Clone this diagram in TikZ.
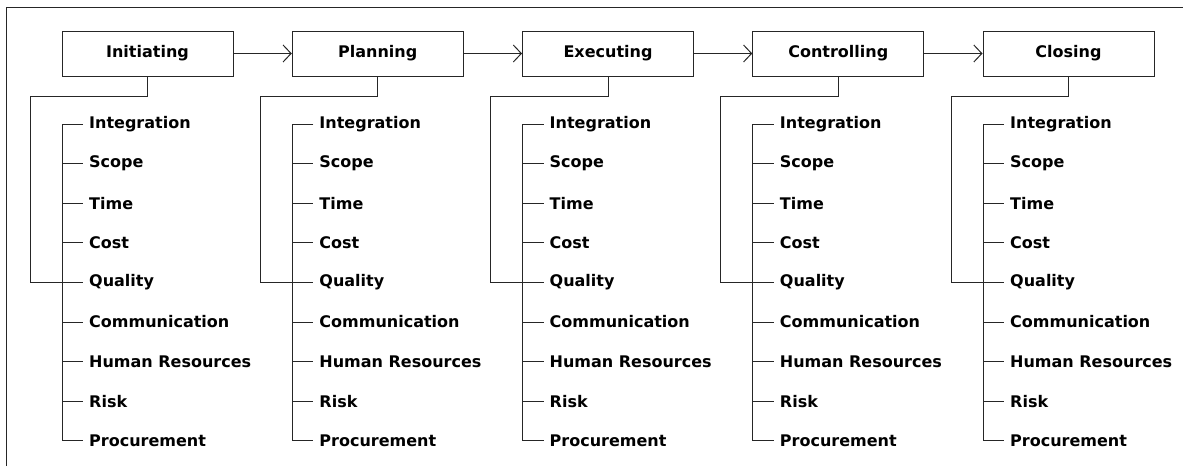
\documentclass[tikz,border=0pt]{standalone}
\usepackage{fontspec}
\setmainfont{DejaVu Sans}
\usetikzlibrary{arrows.meta}
\begin{document}
\begin{tikzpicture}[x=1pt,y=-1pt,
  line/.style={draw=black!85,line width=1pt},
  phasebox/.style={draw=black!85,line width=1pt,minimum width=171pt,minimum height=45pt,inner sep=0pt,font=\fontsize{16}{19}\selectfont\bfseries},
  item/.style={anchor=west,inner xsep=6pt,inner ysep=0pt,font=\fontsize{16}{19}\selectfont\bfseries},
  flow/.style={line,-{Straight Barb[length=8pt,width=17pt,line width=1pt]}}]
\useasboundingbox (0,0) rectangle (1183,466);
\draw[line] (6,466) -- (6,7) -- (1183,7);
\foreach \k/\name in {1/Initiating,2/Planning,3/Executing,4/Controlling,5/Closing}{
  \pgfmathsetmacro{\L}{62+230.25*(\k-1)}
  \node[phasebox] (b\k) at (\L+85.5,53.5) {\name};
  \foreach \j/\lab in {1/Integration,2/Scope,3/Time,4/Cost,5/Quality,6/Communication,7/Human Resources,8/Risk,9/Procurement}{
    \node[item] (i\k\j) at (\L+21,{124+39.6*(\j-1)}) {\lab};
  }
  \coordinate (c\k) at (\L-32,96);
  \draw[line] (i\k1.west) -- (i\k1.west -| \L,0) -- (i\k9.west -| \L,0) -- (i\k9.west);
  \foreach \j in {2,...,8}{
    \draw[line] (i\k\j.west -| \L,0) -- (i\k\j.west);
  }
  \draw[line] (b\k.south) |- (c\k) |- (i\k5.west);
}
\foreach \a/\b in {1/2,2/3,3/4,4/5}{
  \draw[flow] (b\a.east) -- (b\b.west);
}
\end{tikzpicture}
\end{document}
